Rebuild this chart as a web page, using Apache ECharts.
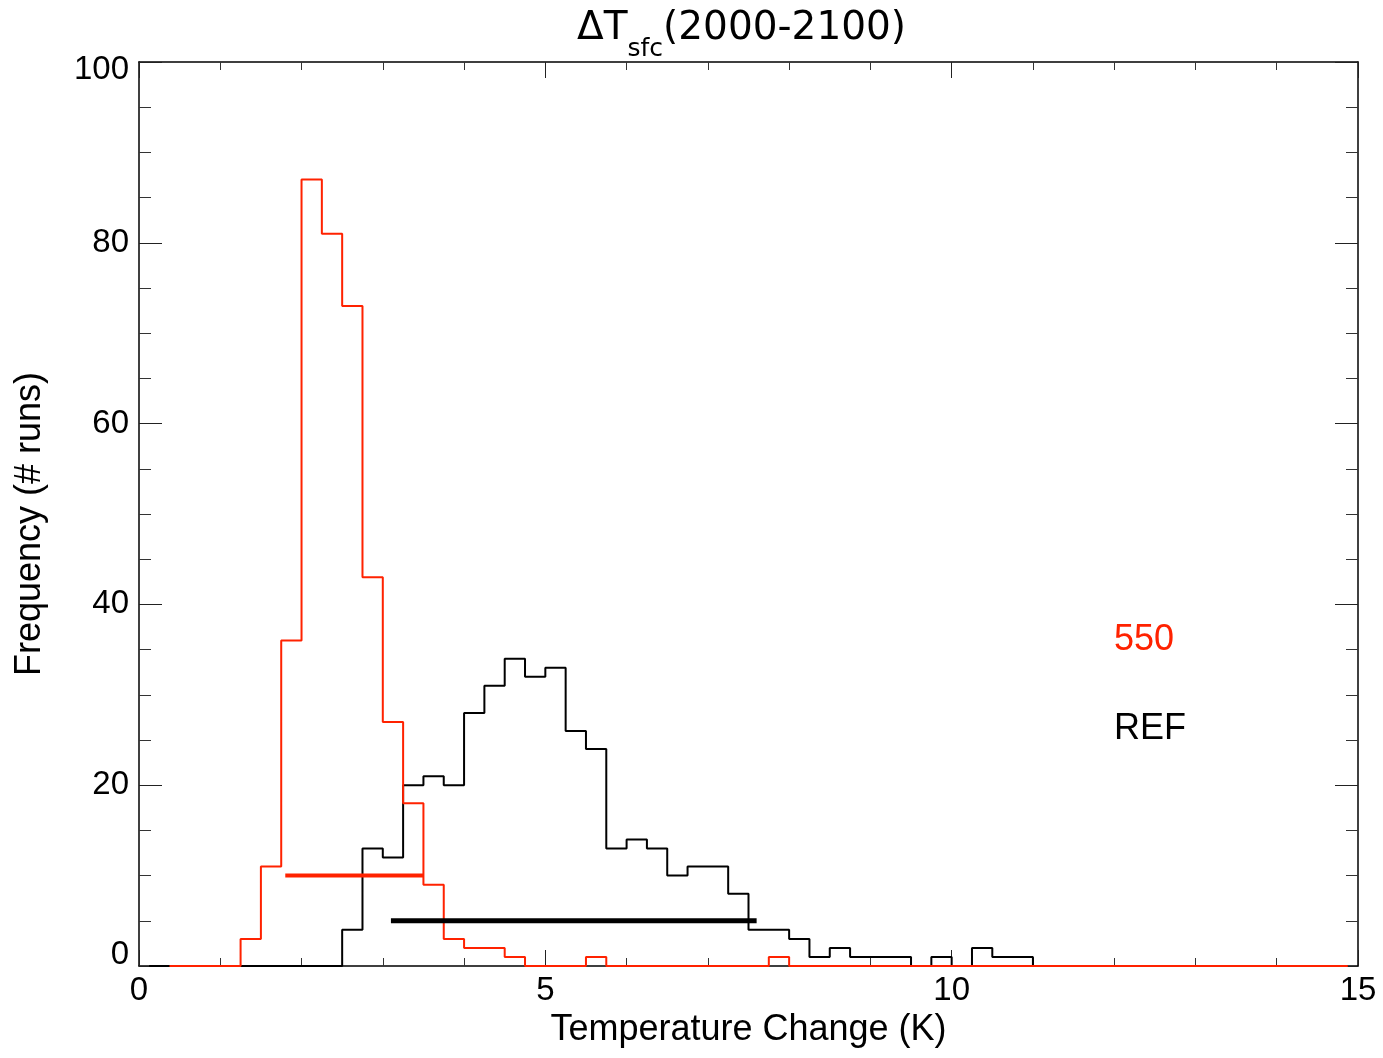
<!DOCTYPE html>
<html>
<head>
<meta charset="utf-8">
<script src="https://cdn.jsdelivr.net/npm/echarts@6/dist/echarts.min.js"></script>
<style>
html,body{margin:0;padding:0;background:#fff;overflow:hidden;}
#chart{width:1383px;height:1058px;}
</style>
</head>
<body>
<div id="chart"></div>
<script>
// Histogram bin width (K)
const binWidth = 0.25;
// First bin centre of each histogram (K)
const refFirstCenter = 0.125;
const s550FirstCenter = 0.375;
// REF (black) counts per 0.25 K bin, starting at bin [0, 0.25]
const refCounts = [
  0,0,0,0,0,0,0,0,0,0,
  4,13,12,20,21,20,28,31,34,32,
  33,26,24,13,14,13,10,11,11,8,
  4,4,3,1,2,1,1,1,0,1,
  0,2,1,1,0,0,0,0,0,0,
  0,0,0,0,0,0,0,0,0,0
];
// 550 (red) counts per 0.25 K bin, starting at bin [0.25, 0.5]
const s550Counts = [
  0,0,0,0,3,11,36,87,81,73,
  43,27,18,9,3,2,2,1,0,0,
  0,1,0,0,0,0,0,0,0,0,
  1,0,0,0,0,0,0,0,0,0,
  0,0,0,0,0,0,0,0,0,0,
  0,0,0,0,0,0,0,0,0
];
// Range bars: [xStart, xEnd, level]
const refRange = [3.1, 7.6, 5];
const s550Range = [1.8, 3.5, 10];
// Axis ticks
const xTicks = [0, 5, 10, 15];
const yTicks = [0, 20, 40, 60, 80, 100];
const labels = { s550: '550', ref: 'REF' };

function toSteps(first, counts) {
  return counts.map((c, i) => [first + i * binWidth, c]);
}

const chart = echarts.init(document.getElementById('chart'), null, { renderer: 'canvas' });
const FONT = 'Liberation Sans';
const RED = '#ff2200';

const baseX = {
  type: 'value', min: xTicks[0], max: xTicks[xTicks.length - 1], interval: 5,
  axisLine: { show: true, onZero: false, lineStyle: { color: '#000', width: 1.5 } },
  axisTick: { show: true, inside: true, length: 16, lineStyle: { color: '#222', width: 1 } },
  minorTick: { show: true, splitNumber: 5, length: 8, lineStyle: { color: '#333', width: 1 } },
  splitLine: { show: false }, minorSplitLine: { show: false }
};
const baseY = {
  type: 'value', min: yTicks[0], max: yTicks[yTicks.length - 1], interval: 20,
  axisLine: { show: true, onZero: false, lineStyle: { color: '#000', width: 1.5 } },
  axisTick: { show: true, inside: true, length: 23, lineStyle: { color: '#222', width: 1 } },
  minorTick: { show: true, splitNumber: 4, length: 12, lineStyle: { color: '#333', width: 1 } },
  splitLine: { show: false }, minorSplitLine: { show: false }
};

chart.setOption({
  animation: false,
  backgroundColor: '#fff',
  title: {
    text: '{a|ΔT}{b|sfc}{a|(2000-2100)}',
    left: 572, top: 4,
    textStyle: {
      fontWeight: 'normal',
      rich: {
        a: { fontFamily: 'DejaVu Sans', fontSize: 39, fontWeight: 'normal', color: '#000', lineHeight: 44, verticalAlign: 'top' },
        b: { fontFamily: 'DejaVu Sans', fontSize: 25, fontWeight: 'normal', color: '#000', lineHeight: 24, padding: [28, 0, 0, 0], verticalAlign: 'top' }
      }
    }
  },
  grid: { left: 139, right: 25, top: 62, bottom: 92, containLabel: false },
  xAxis: [
    Object.assign({}, baseX, {
      position: 'bottom',
      name: 'Temperature Change (K)', nameLocation: 'middle', nameGap: 37,
      nameTextStyle: { fontFamily: FONT, fontSize: 36, color: '#000' },
      axisLabel: { show: true, margin: 8, fontFamily: FONT, fontSize: 33, color: '#000' }
    }),
    Object.assign({}, baseX, { position: 'top', axisLabel: { show: false } })
  ],
  yAxis: [
    Object.assign({}, baseY, {
      position: 'left',
      name: 'Frequency (# runs)', nameLocation: 'middle', nameGap: 91,
      nameTextStyle: { fontFamily: FONT, fontSize: 36, color: '#000', padding: [0, 20, 0, 0] },
      axisLabel: {
        show: true, margin: 10, fontFamily: FONT, fontSize: 33, color: '#000',
        formatter: function (v) {
          if (v === yTicks[0]) return '{lo|' + v + '}';
          if (v === yTicks[yTicks.length - 1]) return '{hi|' + v + '}';
          return String(v);
        },
        rich: {
          lo: { fontFamily: FONT, fontSize: 33, color: '#000', padding: [0, 0, 22, 0] },
          hi: { fontFamily: FONT, fontSize: 33, color: '#000', padding: [16, 0, 0, 0] }
        }
      }
    }),
    Object.assign({}, baseY, { position: 'right', axisLabel: { show: false } })
  ],
  series: [
    {
      type: 'line', name: 'REF', step: 'middle', xAxisIndex: 0, yAxisIndex: 0,
      data: toSteps(refFirstCenter, refCounts), showSymbol: false, symbol: 'none',
      lineStyle: { color: '#000', width: 2 }, z: 2
    },
    {
      type: 'line', name: '550', step: 'middle', xAxisIndex: 0, yAxisIndex: 0,
      data: toSteps(s550FirstCenter, s550Counts), showSymbol: false, symbol: 'none',
      lineStyle: { color: RED, width: 2 }, z: 3
    },
    {
      type: 'line', name: 'REF range', xAxisIndex: 0, yAxisIndex: 0,
      data: [[refRange[0], refRange[2]], [refRange[1], refRange[2]]], showSymbol: false, symbol: 'none',
      lineStyle: { color: '#000', width: 5 }, z: 4
    },
    {
      type: 'line', name: '550 range', xAxisIndex: 0, yAxisIndex: 0,
      data: [[s550Range[0], s550Range[2]], [s550Range[1], s550Range[2]]], showSymbol: false, symbol: 'none',
      lineStyle: { color: RED, width: 4 }, z: 5
    }
  ],
  graphic: [
    { type: 'text', left: 1114, top: 622, style: { text: labels.s550, fill: RED, font: '36px "Liberation Sans"' } },
    { type: 'text', left: 1114, top: 711, style: { text: labels.ref, fill: '#000', font: '36px "Liberation Sans"' } }
  ]
});
</script>
</body>
</html>
